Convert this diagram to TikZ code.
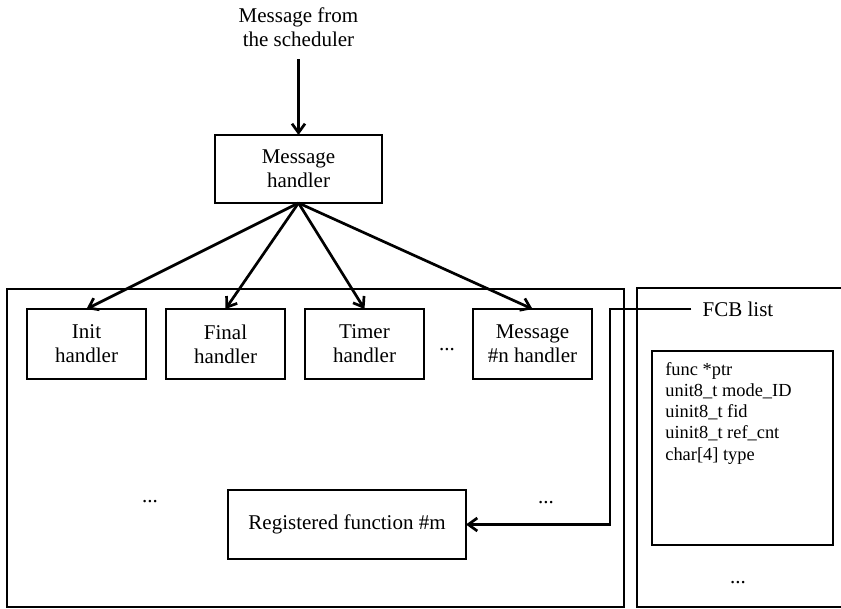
\documentclass[tikz,border=0pt]{standalone}
\usepackage{fontspec}
\setmainfont{Liberation Serif}
\usetikzlibrary{positioning, arrows.meta}

\begin{document}
\begin{tikzpicture}[x=1pt,y=-1pt,->,>={Straight Barb[length=9pt,width=13pt]},line width=2.7pt,
    font=\fontsize{21}{24}\selectfont,node distance=20pt,
    handler/.style={draw,-,minimum width=119pt,minimum height=70pt,inner sep=0pt,outer sep=0pt,align=center},
    area/.style={draw,-,anchor=north west,inner sep=0pt,outer sep=0pt},
    dots/.style={inner sep=0pt}]
    \useasboundingbox (0,0) rectangle (841,608);
    \node[align=center,inner sep=11pt] (sched) at (298.5,27.5) {Message from\\the scheduler};
    \node[handler,minimum width=167pt,minimum height=68pt] (msg) at (298.5,169) {Message\\handler};
    \node[area,minimum width=617pt,minimum height=318pt] (harea) at (7,289) {};
    \node[area,minimum width=240pt,minimum height=319pt] (farea) at (637,288) {};
    \node[handler,anchor=north west] (init) at (27,309) {Init\\handler};
    \node[handler] (final) [right=of init] {Final\\handler};
    \node[handler] (timer) [right=of final] {Timer\\handler};
    \node[handler] (msgn) [right=49pt of timer] {Message\\\#n handler};
    \node[dots] (hdots) at (447,350) {...};
    \node[handler,minimum width=238pt,minimum height=69pt] (reg) at (347,524.5) {Registered function \#m};
    \node[dots] (ldots) at (150,502) {...};
    \node[dots] (rdots) at (546,503) {...};
    \node[inner sep=10pt] (fcb) at (738,309) {FCB list};
    \coordinate (turn) at (610,309);
    \node[area,minimum width=181pt,minimum height=194pt] (entry) at (652,351) {};
    \node[anchor=north west,align=left,inner sep=0pt,font=\fontsize{18.4}{21.2}\selectfont] (fields) at (664,361)
        {func *ptr\\unit8\_t mode\_ID\\uinit8\_t fid\\uinit8\_t ref\_cnt\\char[4] type};
    \node[dots] (edots) at (738,583) {...};
    \draw (sched.south) -- (msg.north);
    \path
    (msg.south) edge (init.north)
                edge (final.north)
                edge (timer.north)
                edge (msgn.north)
    ;
    \draw (fcb.west) -- (turn) |- (reg.east);
\end{tikzpicture}
\end{document}
